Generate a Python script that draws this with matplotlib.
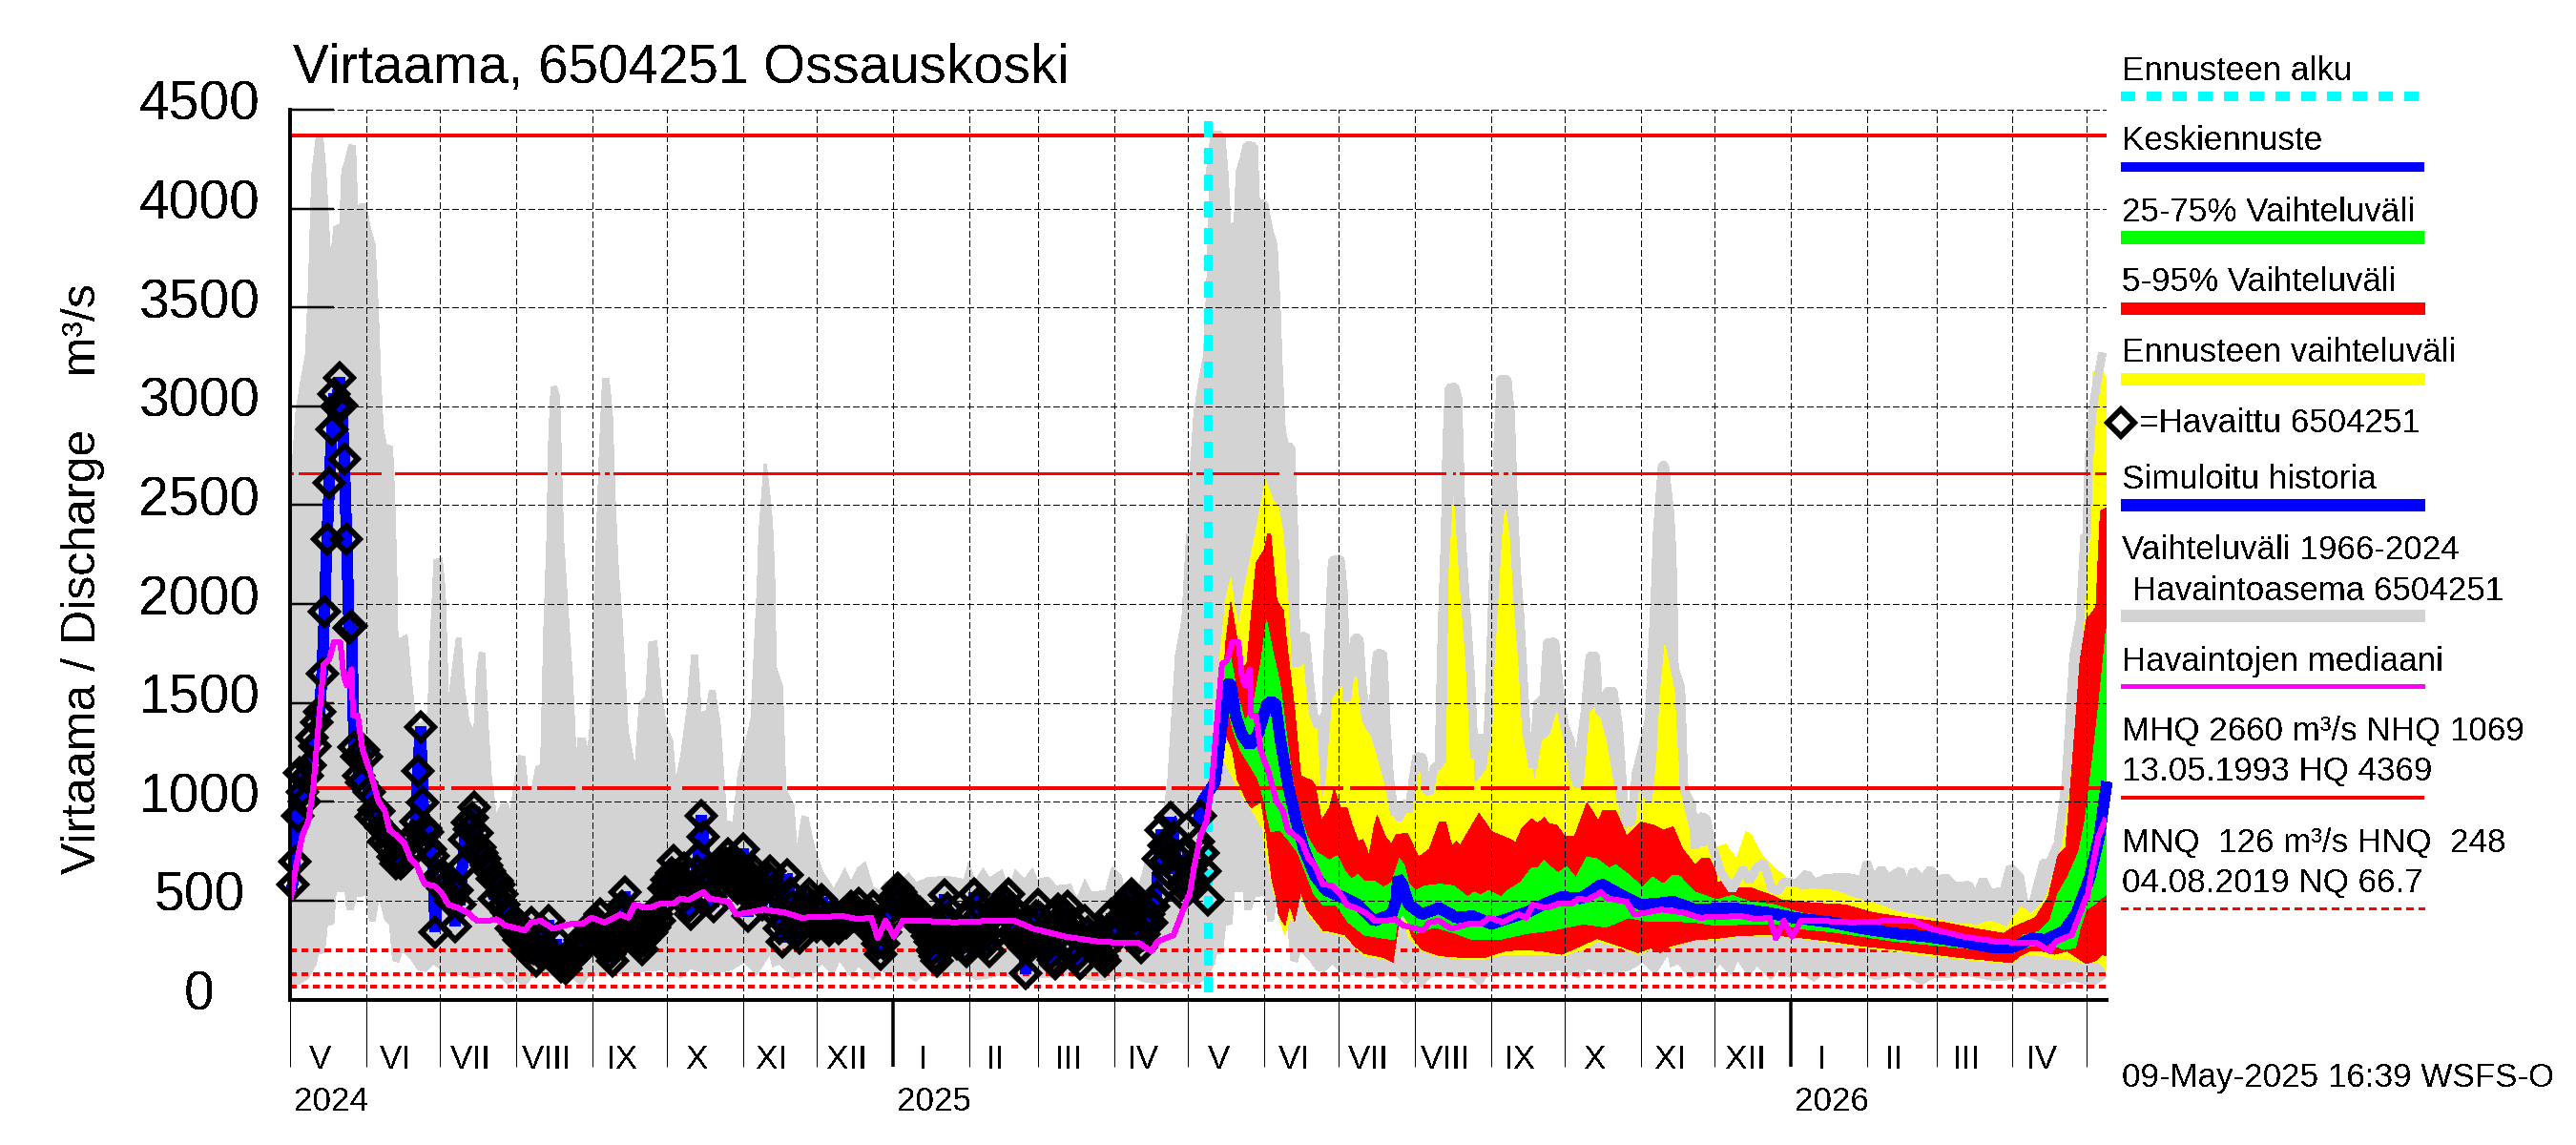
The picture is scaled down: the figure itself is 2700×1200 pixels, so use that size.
from datetime import date

import matplotlib
matplotlib.use("Agg")
import matplotlib.pyplot as plt
import numpy as np
from matplotlib.transforms import Affine2D

plt.rcParams["font.family"] = ["Liberation Sans", "DejaVu Sans"]
plt.rcParams["text.antialiased"] = False

# ---------------------------------------------------------------------------
# Data. x is days since 1 May 2024.
# ---------------------------------------------------------------------------

year_ticks = [0, 500, 1000, 1500, 2000, 2500, 3000, 3500, 4000, 4500]
roman = ["V", "VI", "VII", "VIII", "IX", "X", "XI", "XII", "I", "II", "III", "IV"]

HQ = 4369
MHQ = 2660
NHQ = 1069
HNQ = 248
MNQ = 126
NQ = 66.7
forecast_start = 373

mhq_gaps = [(1.3, 3.4), (36.8, 42.7), (104.4, 107.6), (108.2, 110.3), (125.8, 128), (129.6, 131.5)]
nhq_gaps = [(63, 65.6), (93.4, 94.4), (98, 100.6), (116, 118.7), (154.8, 159.4), (174.2, 176.2),
            (200, 202), (355.8, 358.4)]

# historical range 1966-2024, one year
gray_up_x = [0, 1, 2.3, 4.3, 6.2, 7.5, 8.8, 10.7, 13.3, 14.6, 15.9, 16.5, 17.8, 20.2, 21, 22.4, 24, 26.6,
             27.5, 28.8, 30.8, 32.7, 34.6, 35.9, 36.8, 37.9, 39.2, 41.7, 42.7, 43.4, 43.7, 44.3, 47.6,
             49.5, 50.8, 52.7, 56, 56.6, 58.5, 61.8, 63.1, 64.4, 66.3, 67.6, 69.5, 70.8, 72.8, 74.7,
             76, 76.9, 79.2, 80.5, 81.8, 83.8, 85.7, 88.3, 89.6, 91.5, 92.8, 95.4, 96.7, 98, 99.9,
             101.8, 103.1, 104.4, 105, 106, 108.3, 109.6, 110.3, 111.2, 112.8, 114.8, 116.3, 117.1,
             119.9, 121, 121.9, 124, 125.8, 127, 129.6, 131, 132.3, 133.5, 134.8, 137.4, 140.2, 141.9,
             144.5, 145.8, 149, 151, 152.9, 155.5, 156.8, 158.7, 161.3, 163.2, 165.6, 167.1, 169.1,
             170.4, 172.7, 174.9, 177.5, 180, 182, 184.6, 187.3, 189.9, 190.5, 192.6, 193.6, 195.6,
             196.3, 197, 197.6, 200.2, 201.5, 204.7, 206, 208, 210.5, 213, 216.4, 221, 225.4, 228,
             230.6, 233.8, 237, 239.6, 242.2, 247.4, 251.3, 254.5, 259, 266.8, 273.9, 275.8, 278.4,
             281.6, 284.2, 289.4, 292, 294.6, 298.4, 301.7, 303.6, 308.1, 311.4, 317.2, 319.8, 323,
             325.6, 331.4, 334, 337.9, 339.8, 343, 345, 347.5, 350.1, 353.4, 356.6, 359.8, 362.4, 364.3]
gray_up_y = [2338, 2724, 2965, 3127, 3255, 3609, 4173, 4374, 4374, 4189, 3883, 3762, 3907, 3923, 4189, 4245,
             4325, 4317, 4011, 4027, 4027, 3899, 3818, 3480, 3158, 2885, 2805, 2797, 2482, 2161, 1871,
             1823, 1847, 1597, 1453, 1388, 1453, 1710, 2225, 2233, 2064, 1517, 1710, 1831, 1831, 1581,
             1404, 1364, 1678, 1758, 1750, 1388, 1131, 938, 986, 994, 954, 1131, 1235, 1227, 1066, 1050,
             1179, 1187, 1871, 2354, 2805, 3096, 3104, 3046, 2724, 2322, 2000, 1630, 1227, 1324, 1324,
             1260, 1388, 2161, 2805, 3143, 3143, 2965, 2482, 2161, 1952, 1356, 1179, 1501, 1533, 1807,
             1815, 1549, 1388, 1308, 1115, 1227, 1469, 1742, 1742, 1453, 1461, 1565, 1565, 1388, 905,
             897, 1147, 1276, 1420, 2112, 2354, 2707, 2707, 2484, 2354, 2112, 1678, 1581, 1066, 986, 769,
             929, 922, 777, 648, 559, 664, 600, 664, 696, 567, 551, 600, 592, 640, 592, 616, 624, 608,
             696, 600, 664, 616, 656, 551, 656, 608, 664, 608, 619, 575, 583, 511, 608, 543, 551, 672,
             624, 487, 479, 575, 696, 696, 793, 1098, 1742, 1919, 2354]
gray_lo_x = [0, 3.6, 7.5, 10.7, 11.4, 14, 15.2, 17.8, 18.7, 22.4, 23, 25.6, 27.1, 30.8, 32.3, 34.6, 36.2,
             38.5, 40.4, 41.7, 44.3, 45.6, 49, 52.1, 55.3, 58.5, 61.8, 67, 70.8, 73.4, 78.6, 83.8, 88.3,
             91.5, 94.8, 98, 101.8, 109.6, 114.8, 118.7, 121.2, 127.7, 135.5, 143.2, 151, 158.7, 162.6,
             170.4, 179.4, 184.6, 189.7, 195, 196, 199, 204, 209, 213, 216, 220.7, 223.3, 227.8, 231,
             236.9, 240, 244.6, 248, 254.3, 258, 263.4, 268, 275, 279, 284, 290, 298, 303, 308.6, 315,
             321.6, 328, 334.5, 340, 347, 354, 360, 365]
gray_lo_y = [76, 76, 109, 181, 229, 237, 374, 382, 543, 543, 455, 455, 519, 527, 398, 398, 519, 406, 382,
             197, 189, 245, 205, 149, 141, 181, 141, 125, 125, 109, 117, 133, 76, 109, 60, 109, 125, 115,
             109, 68, 117, 125, 133, 141, 149, 109, 157, 125, 149, 189, 125, 229, 165, 180, 109, 133, 133,
             181, 125, 197, 117, 170, 101, 150, 109, 140, 93, 130, 109, 135, 125, 100, 109, 130, 76, 110,
             109, 125, 109, 95, 101, 120, 90, 76, 95, 76]

# forecast ranges
yellow_up_x = [376, 378, 380.4, 382.3, 384.2, 385.5, 388.1, 390.7, 392.3, 396.4, 399.3, 401.8, 403.6, 405.6,
               406.9, 410.7, 414, 416.6, 418.5, 419.1, 421, 423.7, 426.3, 431.4, 433.4, 435.3, 439.2, 443,
               447, 449.5, 452, 456, 460.5, 463, 467, 470, 471, 472.8, 474.7, 476.7, 480.5, 481.2, 486.4,
               488.3, 490.9, 492.8, 493.8, 495.4, 497.3, 499.9, 502.5, 505.7, 509, 512.2, 514.8, 518,
               521.3, 525.8, 528.4, 531, 534.8, 538.7, 543.2, 545.8, 551, 553.6, 555.5, 556.8, 558.7, 559.5,
               562.6, 563.9, 565.9, 569.7,
               573, 576.8, 580, 583.3, 587.8, 591.7, 593.6, 598.2, 603.3, 609.8, 613.7, 618.8, 627.9,
               634.4, 643.4, 652.5, 665.4, 678.3, 686, 690.6, 697.7, 703.5, 707.4, 713.2, 719.7, 722.2,
               726.1, 728, 730, 730.6, 730.9, 732.8, 735.3, 738]
yellow_up_y = [1300, 1750, 2032, 2129, 1968, 1887, 2097, 2258, 2354, 2628, 2531, 2482, 2354, 2000, 1678,
               1678, 1726, 1517, 1098, 986, 1100, 1517, 1565, 1630, 1630, 1404, 1324, 1163, 954, 897, 897,
               1000, 1227, 1082, 1179, 1195, 2161, 2539, 2161, 1823, 1356, 1082, 1163, 1388, 1952, 2354,
               2482, 2354, 1952, 1549, 1356, 1098, 1308, 1340, 1453, 1260, 1066, 1066, 1453, 1485, 1308,
               1018, 827, 1098, 1002, 986, 1227, 1549, 1791, 1750, 1549, 1227, 986, 809, 769, 777, 769, 785,
               712, 849, 833, 728,
               664, 600, 551, 559, 551, 519, 487, 447, 414, 382, 377, 398, 366, 471, 431, 503, 761, 1018,
               1388, 1710, 2032, 2160, 2840, 3174, 3200, 3136]
yellow_lo_x = [376, 380, 386, 390.7, 395.2, 396.5, 399.8, 401, 402.3, 404.3, 406.2, 408.2, 410.1, 413.3,
               416.6, 419.8, 423.7, 428.8, 432.7, 436.6, 444.4, 448.2, 450.2, 451.5, 454.7, 459.9, 467.6,
               476.7, 485.7, 493.5, 509, 516.7, 525.8, 531, 538.7, 547.8, 553, 560.7, 571, 580, 587.8,
               600.7, 613.7, 626.6, 639.5, 652.4, 665.4, 678.3, 691.2, 699.6, 702.9, 706.7, 711.9, 717,
               722.2, 730, 735.2, 738]
yellow_lo_y = [1300, 1200, 1050, 962, 865, 744, 535, 519, 398, 326, 406, 398, 543, 439, 390, 342, 334, 318,
               262, 221, 205, 189, 342, 471, 310, 245, 213, 205, 205, 229, 229, 221, 253, 294, 270, 229,
               253, 262, 302, 302, 318, 326, 310, 286, 262, 245, 221, 205, 189, 181, 213, 229, 221, 205,
               205, 181, 189, 149]
red_up_x = [378, 380.4, 382.3, 384.2, 386.8, 388.8, 390.7, 392.6, 395.9, 397.2, 398.5, 401, 403.6, 405.6,
            408.2, 410.7, 415.3, 416.6, 419.1, 422.4, 424.3, 426.9, 429.5, 431.4, 434, 436, 438.5, 440.5,
            441.8, 445, 447.6, 449.5, 454, 458.6, 463, 467, 469.6, 472.1, 474, 475.4, 479.2, 483.1, 488.3,
            496, 498, 500.6, 504.5, 507, 509.6, 511.6, 514.8, 518, 522, 527, 531.6, 533.5, 538.7, 543.2,
            549, 554, 558, 562, 565.9, 571, 573.6, 576.8, 579.4, 580, 585.2, 585.9, 593, 602, 606, 620,
            631.8, 643.4, 656.3, 671.8, 684.8, 696.4, 700.3, 709.3, 714.5, 718.4, 721.6, 725.5, 727.4, 730,
            733.9, 735.2, 735.7, 738]
red_up_y = [1400, 1823, 2008, 1871, 1678, 1694, 1952, 2209, 2273, 2354, 2354, 2016, 1968, 1742, 1469, 1131,
            1106, 1082, 905, 970, 1066, 970, 970, 889, 801, 809, 728, 873, 929, 825, 785, 833, 841, 720,
            760, 897, 897, 777, 801, 777, 857, 941, 849, 809, 793, 865, 913, 889, 921, 889, 881, 825, 825,
            994, 905, 954, 954, 825, 897, 881, 857, 873, 761, 680, 712, 712, 648, 592, 608, 559, 567, 527,
            503, 487, 479, 439, 414, 390, 358, 334, 366, 414, 519, 728, 769, 1388, 1710, 1919, 1984, 2354,
            2470, 2486]
red_lo_x = [378, 379.7, 383, 384.9, 388.8, 390.7, 394.6, 396.5, 399.1, 400.7, 401.7, 404.3, 406.2, 408.2,
            410.7, 413.3, 415.9, 419.8, 423.7, 428.8, 432.7, 436.6, 444.4, 448.2, 450.2, 452, 456, 459.9,
            467.6, 479.2, 485.7, 493.5, 501.2, 509, 516.7, 525.8, 531, 538.7, 547.8, 553, 556.8, 560.7,
            571, 580, 587.8, 600.7, 613.7, 626.6, 639.5, 652.4, 665.4, 678.3, 691.2, 699.6, 702.9, 706.7,
            711.9, 717, 722.2, 730, 733.9, 736.5, 738]
red_lo_y = [1400, 1356, 1260, 1115, 1002, 970, 1002, 857, 600, 519, 431, 374, 479, 398, 543, 455, 414, 350,
            342, 326, 270, 233, 213, 189, 358, 471, 318, 253, 221, 210, 213, 245, 253, 245, 229, 278, 310,
            278, 237, 262, 237, 270, 302, 310, 322, 329, 313, 294, 270, 253, 233, 213, 197, 186, 221, 245,
            245, 229, 245, 181, 197, 229, 221]
green_up_x = [379, 379.7, 382.3, 384.9, 388.1, 391.4, 394.6, 396.8, 399.1, 402.3, 404.3, 406.9, 409.5, 413.3,
              417.2, 422.4, 425.6, 428.8, 431.4, 434, 436.6, 440.5, 444.4, 447.6, 450.8, 452.8, 454.7,
              457.3, 461.2, 467.6, 472.8, 478.6, 481.2, 483.8, 487, 492.2, 494.8, 500, 504.5, 507, 509.6,
              512.9, 515.4, 518.7, 522.5, 527, 531, 536, 538.7, 543.9, 549.7, 553.6, 558, 562, 564.6, 571,
              580, 585.9, 593, 603.3, 613.7, 626.6, 639.5, 652.4, 665.4, 678.3, 691.2, 700.3, 704.2, 710.6,
              715.1, 718.4, 722.2, 726.8, 729.4, 732.6, 735.2, 738]
green_up_y = [1500, 1710, 1726, 1549, 1404, 1485, 1710, 1919, 1774, 1598, 1404, 1147, 970, 825, 744, 704,
              728, 648, 607, 632, 600, 600, 567, 592, 712, 680, 583, 551, 575, 583, 575, 519, 543, 527, 551,
              519, 551, 592, 664, 664, 704, 664, 640, 672, 616, 720, 712, 664, 680, 632, 567, 619, 583, 629,
              624, 543, 503, 527, 495, 479, 439, 414, 374, 342, 318, 294, 270, 262, 326, 342, 398, 535, 616,
              744, 905, 1227, 1517, 1871]
green_lo_x = [379, 380.4, 383, 386.2, 390.7, 393.3, 395.9, 398.5, 402.3, 405.6, 409.5, 412, 416, 419.8, 425,
              430.1, 436.6, 444.4, 448.9, 450.2, 452, 457.3, 465, 474, 480.5, 490.9, 502.5, 512.9, 525.8,
              534.8, 543.9, 550.3, 559.4, 571, 580, 593, 604.6, 613.7, 626.6, 639.5, 652.4, 665.4, 678.3,
              691.2, 700.3, 704.2, 714.5, 720.9, 725.5, 727.4, 730, 734, 738]
green_lo_y = [1500, 1501, 1372, 1260, 1171, 1115, 1002, 849, 857, 809, 744, 664, 535, 479, 479, 390, 326, 310,
              302, 406, 431, 334, 366, 334, 302, 302, 334, 350, 382, 366, 414, 398, 398, 390, 374, 382, 382,
              358, 342, 318, 294, 278, 262, 245, 237, 262, 286, 253, 262, 358, 455, 487, 535]

# central forecast
mean_x = [369, 370.7, 375.8, 378.4, 380.4, 382.3, 384.2, 386.8, 390, 393.3, 397.2, 400.4, 402.3, 405.6, 408.8,
          412, 416.6, 421.1, 427.5, 434, 440.5, 447.6, 449.5, 450.2, 452, 454.7, 459.9, 467, 474, 480.5, 488.3,
          496, 503.8, 509, 516.7, 524.5, 533, 540, 549, 556.8, 562, 571, 585.9, 600.7, 611, 626.6, 639.5,
          652.4, 665.4, 678.3, 691.2, 700.3, 708, 713.2, 720.9, 726.1, 731.3, 735.2, 738]
mean_y = [900, 1002, 1098, 1356, 1597, 1597, 1436, 1340, 1283, 1340, 1501, 1501, 1324, 1082, 905, 760, 624, 551,
          519, 479, 398, 431, 500, 616, 583, 479, 431, 463, 414, 422, 382, 414, 447, 479, 519, 511, 583, 535,
          479, 487, 495, 455, 463, 439, 414, 390, 358, 334, 318, 294, 265, 265, 310, 302, 345, 439, 616, 825,
          1074]

# median of observations, one year
median_x = [0.4, 2.3, 4.9, 7.5, 9.4, 12, 13.7, 15.9, 17.8, 20.4, 21.7, 23, 25, 25.6, 27.5, 29.5, 32.7, 35.9,
            38.5, 40.4, 43.7, 46.3, 48.9, 51.4, 54.7, 58.5, 61.8, 64.4, 68.2, 72.1, 76, 80.5, 83.8, 87.6, 95.4,
            98, 101.8, 107, 114, 118.7, 122.5, 127.7, 134.2, 137.4, 140, 145.8, 151, 156.1, 158.7, 162, 167.8,
            170.4, 178, 181.3, 186, 192.3, 201.3, 207.8, 224.6, 231, 236.2, 238.8, 242, 245.3, 249, 257, 269.8,
            285.4, 294.4, 302, 315, 328, 338.4, 344.8, 350, 352.6, 359, 363, 364.9]
median_y = [519, 664, 825, 905, 1066, 1453, 1694, 1718, 1807, 1807, 1646, 1590, 1670, 1437, 1437, 1260, 1147,
            1002, 954, 857, 825, 793, 712, 680, 583, 575, 535, 479, 463, 439, 398, 398, 406, 374, 350, 390, 398,
            358, 382, 382, 414, 390, 430, 414, 479, 463, 487, 487, 511, 503, 543, 511, 495, 430, 439, 455, 439,
            414, 422, 406, 414, 310, 398, 318, 398, 398, 390, 398, 398, 358, 318, 294, 286, 286, 245, 294, 326,
            455, 519]

# observed discharge, one value per day from day 1
observed = [583, 696, 929, 1147, 1050, 1000, 1130, 1187, 1324, 1280, 1404, 1453, 1646, 1960, 2330, 2614, 2885,
            3062, 3000, 3142, 3006, 2732, 2330, 1879, 1887, 1276, 1230, 1131, 1100, 1260, 1227, 1050, 922, 960,
            900, 954, 873, 800, 841, 780, 761, 720, 690, 720, 690, 704, 780, 800, 744, 830, 900, 1155, 1380,
            997, 865, 849, 760, 724, 342, 620, 600, 560, 620, 535, 500, 560, 371, 551, 479, 672, 809, 897, 860,
            920, 970, 841, 769, 740, 712, 680, 648, 610, 511, 600, 583, 535, 480, 440, 420, 360, 390, 330, 300,
            370, 280, 245, 300, 390, 260, 197, 240, 290, 340, 260, 398, 229, 210, 300, 190, 165, 180, 157, 200,
            230, 210, 260, 261, 300, 260, 290, 326, 370, 340, 400, 380, 430, 350, 300, 270, 230, 197, 260, 340,
            420, 470, 543, 440, 400, 350, 326, 300, 280, 253, 300, 330, 390, 340, 366, 430, 400, 480, 560, 607,
            560, 640, 704, 620, 570, 610, 664, 530, 470, 430, 560, 648, 720, 929, 825, 640, 590, 520, 471, 560,
            640, 690, 650, 690, 736, 620, 680, 610, 560, 680, 761, 560, 422, 520, 600, 648, 590, 540, 480, 560,
            620, 648, 551, 480, 420, 360, 294, 400, 632, 540, 470, 380, 340, 310, 380, 440, 500, 535, 470, 400,
            370, 440, 503, 480, 390, 350, 380, 420, 390, 360, 400, 430, 390, 440, 470, 420, 450, 487, 420, 380,
            420, 440, 390, 471, 340, 280, 229, 280, 340, 400, 450, 500, 530, 560, 543, 500, 460, 455, 420, 470,
            430, 390, 440, 422, 360, 320, 290, 250, 220, 197, 300, 400, 527, 460, 400, 350, 310, 280, 340, 300,
            270, 245, 320, 430, 535, 480, 420, 370, 320, 280, 245, 310, 380, 440, 480, 400, 450, 490, 535, 460,
            400, 350, 300, 280, 261, 133, 260, 300, 370, 420, 479, 410, 350, 300, 270, 230, 200, 181, 455, 330,
            390, 430, 471, 400, 340, 270, 220, 181, 300, 398, 340, 300, 270, 300, 250, 230, 220, 197, 270, 340,
            430, 380, 330, 360, 420, 470, 500, 520, 535, 440, 360, 310, 261, 330, 390, 430, 390, 470, 519, 712,
            857, 777, 700, 640, 921, 825, 728, 640, 583, 530, 600, 744, 660, 600, 696, 800, 929, 740, 648, 503]


# ---------------------------------------------------------------------------
# Helpers
# ---------------------------------------------------------------------------

def px(n):
    """Pixels to points at 100 dpi."""
    return n * 0.72


def repeat_years(x, y, end):
    """Lay one year of seasonal values over the whole time axis."""
    xs = np.concatenate([np.array(x) + off for off in (0, 365, 730)])
    ys = np.concatenate([np.array(y)] * 3)
    keep = xs <= end
    return xs[keep], ys[keep]


def band(ax, x_up, y_up, x_lo, y_lo, color, zorder):
    ax.fill(x_up + x_lo[::-1], y_up + y_lo[::-1], color=color, lw=0, antialiased=False, zorder=zorder)


def hline_with_gaps(ax, y, gaps, xmax, lw):
    """Solid level line, broken where the historic peaks hide it."""
    cuts = sorted((a + off, b + off) for a, b in gaps for off in (0, 365, 730))
    start = 0
    for a, b in cuts:
        if a >= xmax:
            break
        ax.plot([start, a], [y, y], color="#ff0000", lw=lw, solid_capstyle="butt", antialiased=False, zorder=4.5)
        start = b
    ax.plot([start, xmax], [y, y], color="#ff0000", lw=lw, solid_capstyle="butt", antialiased=False, zorder=4.5)


# ---------------------------------------------------------------------------
# Plot
# ---------------------------------------------------------------------------

fig = plt.figure(figsize=(27, 12), dpi=100)
left, right, top, bottom = 304, 2207.5, 115, 1047.5
ax = fig.add_axes([left / 2700, 1 - bottom / 1200, (right - left) / 2700, (bottom - top) / 1200])
xmax = 738
ax.set_xlim(0, xmax)
ax.set_ylim(0, 4500)

# month boundaries
month_dates = [date(2024 + (4 + i) // 12, (4 + i) % 12 + 1, 1) for i in range(25)]
month_days = [(d - date(2024, 5, 1)).days for d in month_dates]

# grey historical range
up_x, up_y = repeat_years(gray_up_x, gray_up_y, 736.8)
lo_x, lo_y = repeat_years(gray_lo_x, gray_lo_y, 738)
band(ax, list(up_x), list(up_y), list(lo_x), list(lo_y), "#d3d3d3", 1)

# low flow levels
for level in (HNQ, MNQ, NQ):
    ax.plot([0, xmax], [level, level], color="#ff0000", lw=px(3.5), linestyle=(0, (1.9, 1.5)),
            dash_capstyle="butt", antialiased=False, zorder=2)

# forecast ranges
band(ax, yellow_up_x, yellow_up_y, yellow_lo_x, yellow_lo_y, "#ffff00", 3)
band(ax, red_up_x, red_up_y, red_lo_x, red_lo_y, "#ff0000", 3.1)
band(ax, green_up_x, green_up_y, green_lo_x, green_lo_y, "#00ff00", 3.2)

# the upper edge of the historical range stays visible over the forecast
edge = up_x >= forecast_start
ax.plot(up_x[edge], up_y[edge], color="#d3d3d3", lw=px(8), antialiased=False, zorder=3.5,
        solid_joinstyle="bevel", transform=Affine2D().translate(0, -4) + ax.transData)

# grid
for d in month_days[1:] + [xmax]:
    ax.plot([d, d], [0, 4500], color="black", lw=px(1), linestyle=(0, (6, 4)), antialiased=False, zorder=4)
for v in year_ticks[1:]:
    ax.plot([0, xmax], [v, v], color="black", lw=px(1), linestyle=(0, (6, 4)), antialiased=False, zorder=4)

# high flow levels
ax.plot([0, xmax], [HQ, HQ], color="#ff0000", lw=px(4), solid_capstyle="butt", antialiased=False, zorder=4.5)
hline_with_gaps(ax, MHQ, mhq_gaps, xmax, px(3))
hline_with_gaps(ax, NHQ, nhq_gaps, xmax, px(4))

# forecast start, dashes counted from the top
ax.plot([forecast_start, forecast_start], [4440, 0], color="#00ffff", lw=px(9), linestyle=(0, (1.8, 1.3)),
        dash_capstyle="butt", antialiased=False, zorder=4.8)

# simulated history and central forecast
obs_days = np.arange(1, len(observed) + 1)
ax.plot(obs_days[:366], observed[:366], color="#0000ff", lw=px(11), antialiased=False, zorder=5,
        solid_joinstyle="bevel", clip_on=False)
ax.plot(mean_x, mean_y, color="#0000ff", lw=px(11), antialiased=False, zorder=5, solid_capstyle="projecting",
        solid_joinstyle="bevel", clip_on=False)

# observations
ax.plot(obs_days, observed, linestyle="none", marker="D", ms=px(20), mfc="none", mec="black", mew=px(6),
        antialiased=False, zorder=6, clip_on=False)

# median of observations
med_x, med_y = repeat_years(median_x, median_y, 738)
ax.plot(med_x, med_y, color="#ff00ff", lw=px(5), antialiased=False, zorder=7)

# axes furniture
for name in ("top", "right"):
    ax.spines[name].set_visible(False)
ax.spines["left"].set_linewidth(px(4))
ax.spines["bottom"].set_linewidth(px(4))
ax.spines["left"].set_zorder(8)
ax.spines["bottom"].set_zorder(8)

ax.set_yticks(year_ticks)
ax.set_yticklabels([])
ax.tick_params(axis="y", direction="in", length=px(46), width=px(2.5), color="black")
januaries = [d for d, m in zip(month_days, month_dates) if m.month == 1]
ax.set_xticks([d for d in month_days if d not in januaries])
ax.set_xticks(januaries, minor=True)
ax.set_xticklabels([])
ax.tick_params(axis="x", which="major", direction="out", length=px(70), width=px(1), color="black")
ax.tick_params(axis="x", which="minor", direction="out", length=px(70), width=px(3.5), color="black")

for v in year_ticks:
    ax.annotate(str(v), xy=(0, v), xycoords=("axes fraction", "data"), xytext=(px(209 - left), px(-11)),
                textcoords="offset points", ha="center", va="baseline", fontsize=px(57))

for i, d in enumerate(month_days[:-1]):
    mid = (d + month_days[i + 1]) / 2
    ax.annotate(roman[i % 12], xy=(mid, 0), xycoords=("data", "axes fraction"), xytext=(px(-8), px(-73)),
                textcoords="offset points", ha="center", va="baseline", fontsize=px(35))

for label, d in zip(["2024", "2025", "2026"], [0] + januaries):
    ax.annotate(label, xy=(d, 0), xycoords=("data", "axes fraction"), xytext=(px(4), px(-117)),
                textcoords="offset points", ha="left", va="baseline", fontsize=px(35))

# ---------------------------------------------------------------------------
# Title, y label and legend, placed in image pixels
# ---------------------------------------------------------------------------

page = fig.add_axes([0, 0, 1, 1], zorder=5)
page.set_xlim(0, 2700)
page.set_ylim(1200, 0)
page.axis("off")

page.text(307, 86, "Virtaama, 6504251 Ossauskoski", fontsize=px(56.6), va="baseline", ha="left")
page.text(100, 607, "Virtaama / Discharge    m³/s", fontsize=px(50), rotation=90, rotation_mode="anchor",
          va="baseline", ha="center")

legend_x0, legend_x1, text_x = 2223, 2541, 2224.4
legend_texts = [
    (text_x, 84.4, "Ennusteen alku"),
    (text_x, 157, "Keskiennuste"),
    (text_x, 231.5, "25-75% Vaihteluväli"),
    (text_x, 305.4, "5-95% Vaihteluväli"),
    (text_x, 379, "Ennusteen vaihteluväli"),
    (2242.4, 452.7, "=Havaittu 6504251"),
    (text_x, 511.7, "Simuloitu historia"),
    (text_x, 585.5, "Vaihteluväli 1966-2024"),
    (2234.7, 629, "Havaintoasema 6504251"),
    (text_x, 702.6, "Havaintojen mediaani"),
    (text_x, 775.3, "MHQ 2660 m³/s NHQ 1069"),
    (text_x, 818, "13.05.1993 HQ 4369"),
    (text_x, 892.4, "MNQ  126 m³/s HNQ  248"),
    (text_x, 935, "04.08.2019 NQ 66.7"),
    (text_x, 1138.8, "09-May-2025 16:39 WSFS-O"),
]
for x, y, s in legend_texts:
    page.text(x, y, s, fontsize=px(35), va="baseline", ha="left")

legend_bars = [
    (174.5, 10, "#0000ff"),
    (248.8, 14, "#00ff00"),
    (322.6, 13, "#ff0000"),
    (396.5, 13, "#ffff00"),
    (528.5, 13, "#0000ff"),
    (645, 13, "#d3d3d3"),
    (719.4, 5, "#ff00ff"),
    (835.7, 4, "#ff0000"),
]
for y, h, c in legend_bars:
    page.plot([legend_x0, legend_x1], [y, y], color=c, lw=px(h), solid_capstyle="butt", antialiased=False)
page.plot([legend_x0, legend_x1], [101, 101], color="#00ffff", lw=px(10), linestyle=(0, (1.5, 1.3)),
          dash_capstyle="butt", antialiased=False)
page.plot([legend_x0, legend_x1], [952, 952], color="#ff0000", lw=px(3), linestyle=(0, (2.4, 1.9)),
          dash_capstyle="butt", antialiased=False)
page.plot([2223], [442.8], marker="D", ms=px(20), mfc="none", mec="black", mew=px(6), linestyle="none",
          antialiased=False)

fig.savefig("out.png", dpi=100)
plt.close(fig)
